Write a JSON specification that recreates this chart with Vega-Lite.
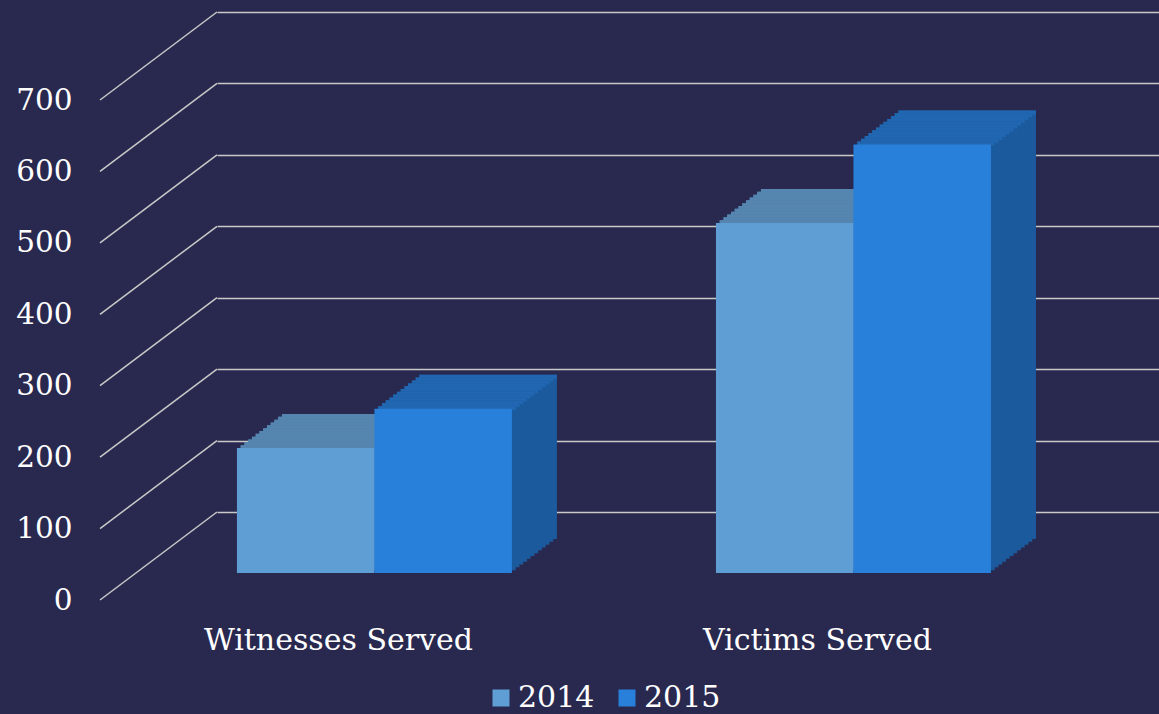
{
"$schema":"https://vega.github.io/schema/vega-lite/v6.json",
"width":942,"height":500,
"autosize":{"type":"none"},
"padding":{"left":217,"top":12,"right":0,"bottom":202},
"background":"#29294f",
"config":{"view":{"stroke":null},"font":"DejaVu Serif",
"axis":{"domain":false,"ticks":false,"tickSize":0,"labelColor":"#ffffff","labelFont":"DejaVu Serif"},
"axisY":{"grid":true,"gridColor":"#c9c9c9","gridWidth":1.5,"labelFontSize":29.5,"labelPadding":145,"labelOffset":88,"tickCount":7},
"axisX":{"grid":false,"labelFontSize":30,"labelPadding":137,"labelOffset":-117,"labelBaseline":"alphabetic","labelAngle":0,"labelLimit":500,"labelOverlap":false}},
"datasets":{
"bars":[
{"cat":"Witnesses Served","year":"2014","v":175},
{"cat":"Witnesses Served","year":"2015","v":230},
{"cat":"Victims Served","year":"2014","v":490},
{"cat":"Victims Served","year":"2015","v":600}],
"ticks":[{"v":0},{"v":100},{"v":200},{"v":300},{"v":400},{"v":500},{"v":600},{"v":700}]},
"layer":[
{"data":{"name":"ticks"},"mark":{"type":"rule","color":"#c9c9c9","strokeWidth":1.5,"x2Offset":-117,"y2Offset":88},
"encoding":{"y":{"field":"v","type":"quantitative","title":null,"scale":{"domain":[0,700],"nice":false}},"y2":{"field":"v"},"x":{"value":0},"x2":{"value":0}}},

{"data":{"name":"bars"},"mark":{"type":"bar","yOffset":27,"y2Offset":27},"encoding":{"x":{"field":"cat","type":"nominal","title":null,"sort":null},"xOffset":{"field":"year","type":"nominal","scale":{"range":[-36,239],"paddingInner":0,"paddingOuter":0}},"y":{"field":"v","type":"quantitative","title":null},"y2":{"datum":0},"fill":{"condition":{"test":"datum.year === '2014'","value":"#4a7fb0"},"value":"#1c5a9e"}}},
{"data":{"name":"bars"},"mark":{"type":"bar","yOffset":27,"y2Offset":31},"encoding":{"x":{"field":"cat","type":"nominal","title":null,"sort":null},"xOffset":{"field":"year","type":"nominal","scale":{"range":[-36,239],"paddingInner":0,"paddingOuter":0}},"y":{"field":"v","type":"quantitative","title":null},"y2":{"field":"v"},"fill":{"condition":{"test":"datum.year === '2014'","value":"#5686b0"},"value":"#2066b0"}}},

{"data":{"name":"bars"},"mark":{"type":"bar","yOffset":29.83,"y2Offset":29.83},"encoding":{"x":{"field":"cat","type":"nominal","title":null,"sort":null},"xOffset":{"field":"year","type":"nominal","scale":{"range":[-39.75,235.25],"paddingInner":0,"paddingOuter":0}},"y":{"field":"v","type":"quantitative","title":null},"y2":{"datum":0},"fill":{"condition":{"test":"datum.year === '2014'","value":"#4a7fb0"},"value":"#1c5a9e"}}},
{"data":{"name":"bars"},"mark":{"type":"bar","yOffset":29.83,"y2Offset":33.83},"encoding":{"x":{"field":"cat","type":"nominal","title":null,"sort":null},"xOffset":{"field":"year","type":"nominal","scale":{"range":[-39.75,235.25],"paddingInner":0,"paddingOuter":0}},"y":{"field":"v","type":"quantitative","title":null},"y2":{"field":"v"},"fill":{"condition":{"test":"datum.year === '2014'","value":"#5686b0"},"value":"#2066b0"}}},

{"data":{"name":"bars"},"mark":{"type":"bar","yOffset":32.67,"y2Offset":32.67},"encoding":{"x":{"field":"cat","type":"nominal","title":null,"sort":null},"xOffset":{"field":"year","type":"nominal","scale":{"range":[-43.5,231.5],"paddingInner":0,"paddingOuter":0}},"y":{"field":"v","type":"quantitative","title":null},"y2":{"datum":0},"fill":{"condition":{"test":"datum.year === '2014'","value":"#4a7fb0"},"value":"#1c5a9e"}}},
{"data":{"name":"bars"},"mark":{"type":"bar","yOffset":32.67,"y2Offset":36.67},"encoding":{"x":{"field":"cat","type":"nominal","title":null,"sort":null},"xOffset":{"field":"year","type":"nominal","scale":{"range":[-43.5,231.5],"paddingInner":0,"paddingOuter":0}},"y":{"field":"v","type":"quantitative","title":null},"y2":{"field":"v"},"fill":{"condition":{"test":"datum.year === '2014'","value":"#5686b0"},"value":"#2066b0"}}},

{"data":{"name":"bars"},"mark":{"type":"bar","yOffset":35.5,"y2Offset":35.5},"encoding":{"x":{"field":"cat","type":"nominal","title":null,"sort":null},"xOffset":{"field":"year","type":"nominal","scale":{"range":[-47.25,227.75],"paddingInner":0,"paddingOuter":0}},"y":{"field":"v","type":"quantitative","title":null},"y2":{"datum":0},"fill":{"condition":{"test":"datum.year === '2014'","value":"#4a7fb0"},"value":"#1c5a9e"}}},
{"data":{"name":"bars"},"mark":{"type":"bar","yOffset":35.5,"y2Offset":39.5},"encoding":{"x":{"field":"cat","type":"nominal","title":null,"sort":null},"xOffset":{"field":"year","type":"nominal","scale":{"range":[-47.25,227.75],"paddingInner":0,"paddingOuter":0}},"y":{"field":"v","type":"quantitative","title":null},"y2":{"field":"v"},"fill":{"condition":{"test":"datum.year === '2014'","value":"#5686b0"},"value":"#2066b0"}}},

{"data":{"name":"bars"},"mark":{"type":"bar","yOffset":38.33,"y2Offset":38.33},"encoding":{"x":{"field":"cat","type":"nominal","title":null,"sort":null},"xOffset":{"field":"year","type":"nominal","scale":{"range":[-51,224],"paddingInner":0,"paddingOuter":0}},"y":{"field":"v","type":"quantitative","title":null},"y2":{"datum":0},"fill":{"condition":{"test":"datum.year === '2014'","value":"#4a7fb0"},"value":"#1c5a9e"}}},
{"data":{"name":"bars"},"mark":{"type":"bar","yOffset":38.33,"y2Offset":42.33},"encoding":{"x":{"field":"cat","type":"nominal","title":null,"sort":null},"xOffset":{"field":"year","type":"nominal","scale":{"range":[-51,224],"paddingInner":0,"paddingOuter":0}},"y":{"field":"v","type":"quantitative","title":null},"y2":{"field":"v"},"fill":{"condition":{"test":"datum.year === '2014'","value":"#5686b0"},"value":"#2066b0"}}},

{"data":{"name":"bars"},"mark":{"type":"bar","yOffset":41.17,"y2Offset":41.17},"encoding":{"x":{"field":"cat","type":"nominal","title":null,"sort":null},"xOffset":{"field":"year","type":"nominal","scale":{"range":[-54.75,220.25],"paddingInner":0,"paddingOuter":0}},"y":{"field":"v","type":"quantitative","title":null},"y2":{"datum":0},"fill":{"condition":{"test":"datum.year === '2014'","value":"#4a7fb0"},"value":"#1c5a9e"}}},
{"data":{"name":"bars"},"mark":{"type":"bar","yOffset":41.17,"y2Offset":45.17},"encoding":{"x":{"field":"cat","type":"nominal","title":null,"sort":null},"xOffset":{"field":"year","type":"nominal","scale":{"range":[-54.75,220.25],"paddingInner":0,"paddingOuter":0}},"y":{"field":"v","type":"quantitative","title":null},"y2":{"field":"v"},"fill":{"condition":{"test":"datum.year === '2014'","value":"#5686b0"},"value":"#2066b0"}}},

{"data":{"name":"bars"},"mark":{"type":"bar","yOffset":44,"y2Offset":44},"encoding":{"x":{"field":"cat","type":"nominal","title":null,"sort":null},"xOffset":{"field":"year","type":"nominal","scale":{"range":[-58.5,216.5],"paddingInner":0,"paddingOuter":0}},"y":{"field":"v","type":"quantitative","title":null},"y2":{"datum":0},"fill":{"condition":{"test":"datum.year === '2014'","value":"#4a7fb0"},"value":"#1c5a9e"}}},
{"data":{"name":"bars"},"mark":{"type":"bar","yOffset":44,"y2Offset":48},"encoding":{"x":{"field":"cat","type":"nominal","title":null,"sort":null},"xOffset":{"field":"year","type":"nominal","scale":{"range":[-58.5,216.5],"paddingInner":0,"paddingOuter":0}},"y":{"field":"v","type":"quantitative","title":null},"y2":{"field":"v"},"fill":{"condition":{"test":"datum.year === '2014'","value":"#5686b0"},"value":"#2066b0"}}},

{"data":{"name":"bars"},"mark":{"type":"bar","yOffset":46.83,"y2Offset":46.83},"encoding":{"x":{"field":"cat","type":"nominal","title":null,"sort":null},"xOffset":{"field":"year","type":"nominal","scale":{"range":[-62.25,212.75],"paddingInner":0,"paddingOuter":0}},"y":{"field":"v","type":"quantitative","title":null},"y2":{"datum":0},"fill":{"condition":{"test":"datum.year === '2014'","value":"#4a7fb0"},"value":"#1c5a9e"}}},
{"data":{"name":"bars"},"mark":{"type":"bar","yOffset":46.83,"y2Offset":50.83},"encoding":{"x":{"field":"cat","type":"nominal","title":null,"sort":null},"xOffset":{"field":"year","type":"nominal","scale":{"range":[-62.25,212.75],"paddingInner":0,"paddingOuter":0}},"y":{"field":"v","type":"quantitative","title":null},"y2":{"field":"v"},"fill":{"condition":{"test":"datum.year === '2014'","value":"#5686b0"},"value":"#2066b0"}}},

{"data":{"name":"bars"},"mark":{"type":"bar","yOffset":49.67,"y2Offset":49.67},"encoding":{"x":{"field":"cat","type":"nominal","title":null,"sort":null},"xOffset":{"field":"year","type":"nominal","scale":{"range":[-66,209],"paddingInner":0,"paddingOuter":0}},"y":{"field":"v","type":"quantitative","title":null},"y2":{"datum":0},"fill":{"condition":{"test":"datum.year === '2014'","value":"#4a7fb0"},"value":"#1c5a9e"}}},
{"data":{"name":"bars"},"mark":{"type":"bar","yOffset":49.67,"y2Offset":53.67},"encoding":{"x":{"field":"cat","type":"nominal","title":null,"sort":null},"xOffset":{"field":"year","type":"nominal","scale":{"range":[-66,209],"paddingInner":0,"paddingOuter":0}},"y":{"field":"v","type":"quantitative","title":null},"y2":{"field":"v"},"fill":{"condition":{"test":"datum.year === '2014'","value":"#5686b0"},"value":"#2066b0"}}},

{"data":{"name":"bars"},"mark":{"type":"bar","yOffset":52.5,"y2Offset":52.5},"encoding":{"x":{"field":"cat","type":"nominal","title":null,"sort":null},"xOffset":{"field":"year","type":"nominal","scale":{"range":[-69.75,205.25],"paddingInner":0,"paddingOuter":0}},"y":{"field":"v","type":"quantitative","title":null},"y2":{"datum":0},"fill":{"condition":{"test":"datum.year === '2014'","value":"#4a7fb0"},"value":"#1c5a9e"}}},
{"data":{"name":"bars"},"mark":{"type":"bar","yOffset":52.5,"y2Offset":56.5},"encoding":{"x":{"field":"cat","type":"nominal","title":null,"sort":null},"xOffset":{"field":"year","type":"nominal","scale":{"range":[-69.75,205.25],"paddingInner":0,"paddingOuter":0}},"y":{"field":"v","type":"quantitative","title":null},"y2":{"field":"v"},"fill":{"condition":{"test":"datum.year === '2014'","value":"#5686b0"},"value":"#2066b0"}}},

{"data":{"name":"bars"},"mark":{"type":"bar","yOffset":55.33,"y2Offset":55.33},"encoding":{"x":{"field":"cat","type":"nominal","title":null,"sort":null},"xOffset":{"field":"year","type":"nominal","scale":{"range":[-73.5,201.5],"paddingInner":0,"paddingOuter":0}},"y":{"field":"v","type":"quantitative","title":null},"y2":{"datum":0},"fill":{"condition":{"test":"datum.year === '2014'","value":"#4a7fb0"},"value":"#1c5a9e"}}},
{"data":{"name":"bars"},"mark":{"type":"bar","yOffset":55.33,"y2Offset":59.33},"encoding":{"x":{"field":"cat","type":"nominal","title":null,"sort":null},"xOffset":{"field":"year","type":"nominal","scale":{"range":[-73.5,201.5],"paddingInner":0,"paddingOuter":0}},"y":{"field":"v","type":"quantitative","title":null},"y2":{"field":"v"},"fill":{"condition":{"test":"datum.year === '2014'","value":"#5686b0"},"value":"#2066b0"}}},

{"data":{"name":"bars"},"mark":{"type":"bar","yOffset":58.17,"y2Offset":58.17},"encoding":{"x":{"field":"cat","type":"nominal","title":null,"sort":null},"xOffset":{"field":"year","type":"nominal","scale":{"range":[-77.25,197.75],"paddingInner":0,"paddingOuter":0}},"y":{"field":"v","type":"quantitative","title":null},"y2":{"datum":0},"fill":{"condition":{"test":"datum.year === '2014'","value":"#4a7fb0"},"value":"#1c5a9e"}}},
{"data":{"name":"bars"},"mark":{"type":"bar","yOffset":58.17,"y2Offset":62.17},"encoding":{"x":{"field":"cat","type":"nominal","title":null,"sort":null},"xOffset":{"field":"year","type":"nominal","scale":{"range":[-77.25,197.75],"paddingInner":0,"paddingOuter":0}},"y":{"field":"v","type":"quantitative","title":null},"y2":{"field":"v"},"fill":{"condition":{"test":"datum.year === '2014'","value":"#5686b0"},"value":"#2066b0"}}},

{"data":{"name":"bars"},"mark":{"type":"bar","yOffset":61,"y2Offset":61},"encoding":{"x":{"field":"cat","type":"nominal","title":null,"sort":null,"scale":{"domain":["Witnesses Served","Victims Served"],"paddingInner":0.4259,"paddingOuter":0.1962,"align":0.537}},"xOffset":{"field":"year","type":"nominal","scale":{"range":[-81,194],"paddingInner":0,"paddingOuter":0}},"y":{"field":"v","type":"quantitative","title":null},"y2":{"datum":0},
"color":{"field":"year","type":"nominal","scale":{"range":["#5f9ed4","#2880da"]},"legend":{"title":null,"orient":"none","legendX":269,"legendY":671,"direction":"horizontal","symbolType":"square","symbolSize":289,"symbolStrokeWidth":0,"labelFontSize":30,"labelFont":"DejaVu Serif","labelColor":"#ffffff","labelOffset":2,"columnPadding":17,"padding":0}}}}
],
"resolve":{"scale":{"xOffset":"independent"}}
}
